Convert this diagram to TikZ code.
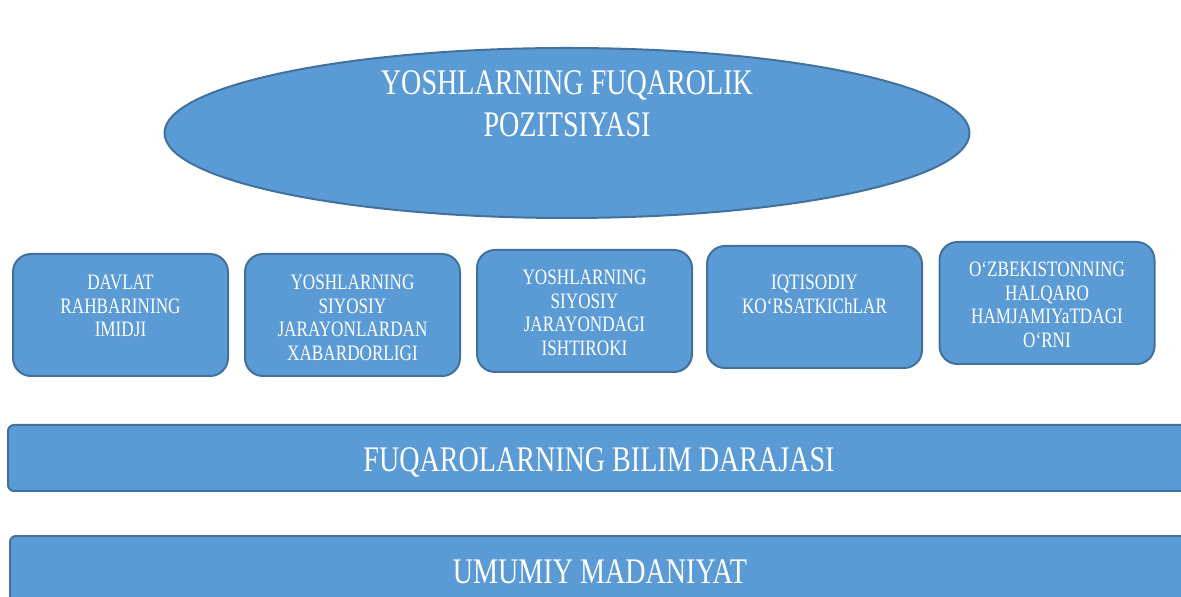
\documentclass[tikz,border=0pt]{standalone}
\usepackage{fontspec}
\setmainfont{Liberation Serif}[FakeStretch=0.78]
\usetikzlibrary{shapes.geometric}
\definecolor{cellblue}{HTML}{5B9BD5}
\definecolor{celledge}{HTML}{41719C}
% lines hung from the node centre: #1 raise of first baseline, #2 width
\newcommand{\hunglines}[3]{\smash{\raisebox{#1}{\parbox[t]{#2}{\centering #3}}}}

\begin{document}
\begin{tikzpicture}[x=0.5pt,y=-0.5pt,
    cellbox/.style={draw=celledge,line width=1pt,fill=cellblue,rounded corners=9pt,
        minimum width=107.5pt,minimum height=61pt,inner sep=0pt,text=white,
        font=\fontsize{11}{11.7}\selectfont},
    barbox/.style={draw=celledge,line width=1pt,fill=cellblue,rounded corners=3pt,
        minimum height=33pt,inner sep=0pt,text=white,font=\fontsize{18}{21}\selectfont}]
    \clip (0,0) rectangle (1181,597);

    \node[ellipse,draw=celledge,line width=1pt,fill=cellblue,minimum width=402.5pt,
        minimum height=85pt,inner sep=0pt,text=white,font=\fontsize{18}{21}\selectfont]
        (goal) at (567,133) {\hunglines{19pt}{240pt}{YOSHLARNING FUQAROLIK\\POZITSIYASI}};

    \node[cellbox] (image) at (120.5,315) {\hunglines{12.5pt}{100pt}{DAVLAT\\RAHBARINING\\IMIDJI}};
    \node[cellbox] (aware) at (352.5,315) {\hunglines{12.5pt}{100pt}{YOSHLARNING\\SIYOSIY\\JARAYONLARDAN\\XABARDORLIGI}};
    \node[cellbox] (part) at (584.5,311) {\hunglines{13pt}{100pt}{YOSHLARNING\\SIYOSIY\\JARAYONDAGI\\ISHTIROKI}};
    \node[cellbox] (econ) at (814.5,307) {\hunglines{8.5pt}{100pt}{IQTISODIY\\KO‘RSATKIChLAR}};
    \node[cellbox] (world) at (1047,303) {\hunglines{13pt}{100pt}{O‘ZBEKISTONNING\\HALQARO\\HAMJAMIYaTDAGI\\O‘RNI}};

    \node[barbox,minimum width=591pt] (know) at (599,458) {\hunglines{-7pt}{560pt}{FUQAROLARNING BILIM DARAJASI}};
    \node[barbox,minimum width=590pt] (culture) at (600,569) {\hunglines{-7pt}{560pt}{UMUMIY MADANIYAT}};
\end{tikzpicture}
\end{document}
